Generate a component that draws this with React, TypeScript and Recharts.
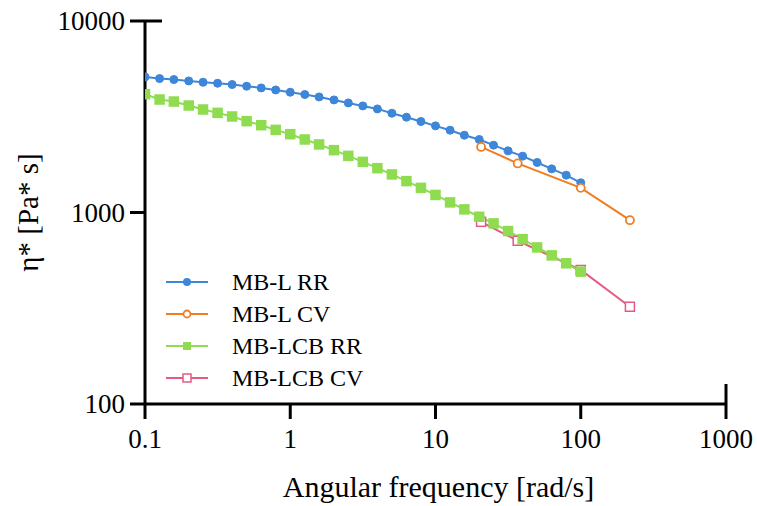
import { LineChart, Line, XAxis, YAxis, Legend } from 'recharts';

// frequencies of the rotational-rheometer sweep, rad/s
const FREQ_RR = [
  0.1, 0.126, 0.158, 0.2, 0.251, 0.316, 0.398, 0.501, 0.631, 0.794,
  1, 1.26, 1.58, 2, 2.51, 3.16, 3.98, 5.01, 6.31, 7.94,
  10, 12.6, 15.8, 20, 25.1, 31.6, 39.8, 50.1, 63.1, 79.4, 100,
];
const MBL_RR = [
  5105, 5005, 4946, 4864, 4788, 4731, 4658, 4565, 4473, 4365,
  4247, 4131, 4013, 3872, 3735, 3603, 3475, 3300, 3146, 2987,
  2834, 2690, 2533, 2406, 2247, 2098, 1969, 1825, 1690, 1567, 1429,
];
const MBLCB_RR = [
  4146, 3890, 3797, 3620, 3450, 3313, 3172, 2998, 2857, 2700,
  2564, 2406, 2266, 2116, 1976, 1838, 1704, 1580, 1458, 1345,
  1235, 1129, 1038, 950, 877, 800, 726, 657, 597, 543, 491,
];

// capillary viscometer points
const FREQ_CV = [20.6, 36.8, 100, 218];
const MBL_CV = [2200, 1804, 1345, 912];
const MBLCB_CV = [894, 712, 501, 322];

const NAMES = ['MB-L RR', 'MB-L CV', 'MB-LCB RR', 'MB-LCB CV'];
const X_TICKS = [0.1, 1, 10, 100, 1000];
const Y_TICKS = [100, 1000, 10000];

const BLUE = '#3d86d8';
const ORANGE = '#f07d22';
const GREEN = '#8fdc50';
const PINK = '#e65a82';
const COLORS = [BLUE, ORANGE, GREEN, PINK];

const FONT = "'Liberation Serif', 'Times New Roman', Times, serif";
const TICK = 15;
const GAP_Y = 5;
const GAP_X = 20;

const toRows = (xs: number[], ys: number[]) => xs.map((x, i) => ({ x, y: ys[i] }));

const mblRR = toRows(FREQ_RR, MBL_RR);
const mblcbRR = toRows(FREQ_RR, MBLCB_RR);
const mblCV = toRows(FREQ_CV, MBL_CV);
const mblcbCV = toRows(FREQ_CV, MBLCB_CV);

function YTick(props: any) {
  const { x, y, payload } = props;
  const ax = x + TICK + GAP_Y;
  const top = payload.value === Y_TICKS[Y_TICKS.length - 1];
  return (
    <g>
      <line x1={ax - TICK} x2={top ? ax + 17 : ax} y1={y} y2={y} stroke="#000" strokeWidth={3} />
      <text x={x} y={y} textAnchor="end" dominantBaseline="central" style={{ fontFamily: FONT, fontSize: 27 }} fill="#000">
        {payload.value}
      </text>
    </g>
  );
}

function XTick(props: any) {
  const { x, y, payload } = props;
  const ay = y - TICK - GAP_X;
  const end = payload.value === X_TICKS[X_TICKS.length - 1];
  return (
    <g>
      <line x1={x} x2={x} y1={end ? ay - 20 : ay} y2={ay + TICK} stroke="#000" strokeWidth={3} />
      <text x={x} y={y} textAnchor="middle" dominantBaseline="central" style={{ fontFamily: FONT, fontSize: 27 }} fill="#000">
        {payload.value}
      </text>
    </g>
  );
}

const squareDot = (color: string, fill: string) => (p: any) => (
  <rect key={p.index} x={p.cx - 4.5} y={p.cy - 4.5} width={9} height={9} fill={fill} stroke={color} strokeWidth={1.5} />
);

function LegendMarker({ i }: { i: number }) {
  const c = COLORS[i];
  return (
    <svg width={42} height={14} style={{ display: 'block' }}>
      <line x1={0} x2={42} y1={7} y2={7} stroke={c} strokeWidth={2} />
      {i === 0 && <circle cx={21} cy={7} r={4} fill={c} />}
      {i === 1 && <circle cx={21} cy={7} r={3.5} fill="#fff" stroke={c} strokeWidth={1.8} />}
      {i === 2 && <rect x={17} y={3} width={8} height={8} fill={c} />}
      {i === 3 && <rect x={17} y={3} width={8} height={8} fill="#fff" stroke={c} strokeWidth={1.5} />}
    </svg>
  );
}

function LegendBox() {
  return (
    <div style={{ fontFamily: FONT, fontSize: 24, color: '#000' }}>
      {NAMES.map((n, i) => (
        <div key={n} style={{ display: 'flex', alignItems: 'center', height: 32 }}>
          <LegendMarker i={i} />
          <span style={{ marginLeft: 24, whiteSpace: 'nowrap' }}>{n}</span>
        </div>
      ))}
    </div>
  );
}

export default function App() {
  return (
    <div style={{ position: 'absolute', left: 0, top: 0, background: '#fff' }}>
      <LineChart width={757} height={506} margin={{ top: 21, right: 31, left: 0, bottom: 0 }}>
        <XAxis
          type="number"
          dataKey="x"
          scale="log"
          domain={[0.1, 1000]}
          ticks={X_TICKS}
          allowDataOverflow
          height={102}
          tickSize={TICK}
          tickMargin={GAP_X}
          tickLine={false}
          axisLine={{ stroke: '#000', strokeWidth: 3 }}
          tick={<XTick />}
          label={{
            content: (p: any) => (
              <text
                x={p.viewBox.x + p.viewBox.width / 2 + 3}
                y={p.viewBox.y + 93}
                textAnchor="middle"
                style={{ fontFamily: FONT, fontSize: 30 }}
                fill="#000"
              >
                Angular frequency [rad/s]
              </text>
            ),
          }}
        />
        <YAxis
          type="number"
          dataKey="y"
          scale="log"
          domain={[100, 10000]}
          ticks={Y_TICKS}
          allowDataOverflow
          width={145}
          tickSize={TICK}
          tickMargin={GAP_Y}
          tickLine={false}
          axisLine={{ stroke: '#000', strokeWidth: 3 }}
          tick={<YTick />}
          label={{
            content: (p: any) => {
              const cx = p.viewBox.x + 28;
              const cy = p.viewBox.y + p.viewBox.height / 2;
              return (
                <text
                  x={cx}
                  y={cy}
                  transform={`rotate(-90 ${cx} ${cy})`}
                  textAnchor="middle"
                  dominantBaseline="central"
                  style={{ fontFamily: FONT, fontSize: 29 }}
                  fill="#000"
                >
                  η* [Pa* s]
                </text>
              );
            },
          }}
        />
        <Legend
          verticalAlign="middle"
          align="center"
          layout="horizontal"
          content={<LegendBox />}
          wrapperStyle={{ left: 166, top: 266, width: 'auto' }}
        />
        <Line
          data={mblcbCV}
          dataKey="y"
          name={NAMES[3]}
          stroke={PINK}
          strokeWidth={2}
          dot={squareDot(PINK, '#fff')}
          isAnimationActive={false}
        />
        <Line
          data={mblcbRR}
          dataKey="y"
          name={NAMES[2]}
          stroke={GREEN}
          strokeWidth={2}
          dot={squareDot(GREEN, GREEN)}
          isAnimationActive={false}
        />
        <Line
          data={mblRR}
          dataKey="y"
          name={NAMES[0]}
          stroke={BLUE}
          strokeWidth={2}
          dot={{ r: 4, fill: BLUE, stroke: BLUE, strokeWidth: 1 }}
          isAnimationActive={false}
        />
        <Line
          data={mblCV}
          dataKey="y"
          name={NAMES[1]}
          stroke={ORANGE}
          strokeWidth={2}
          dot={{ r: 4, fill: '#fff', stroke: ORANGE, strokeWidth: 1.8 }}
          isAnimationActive={false}
        />
      </LineChart>
    </div>
  );
}
